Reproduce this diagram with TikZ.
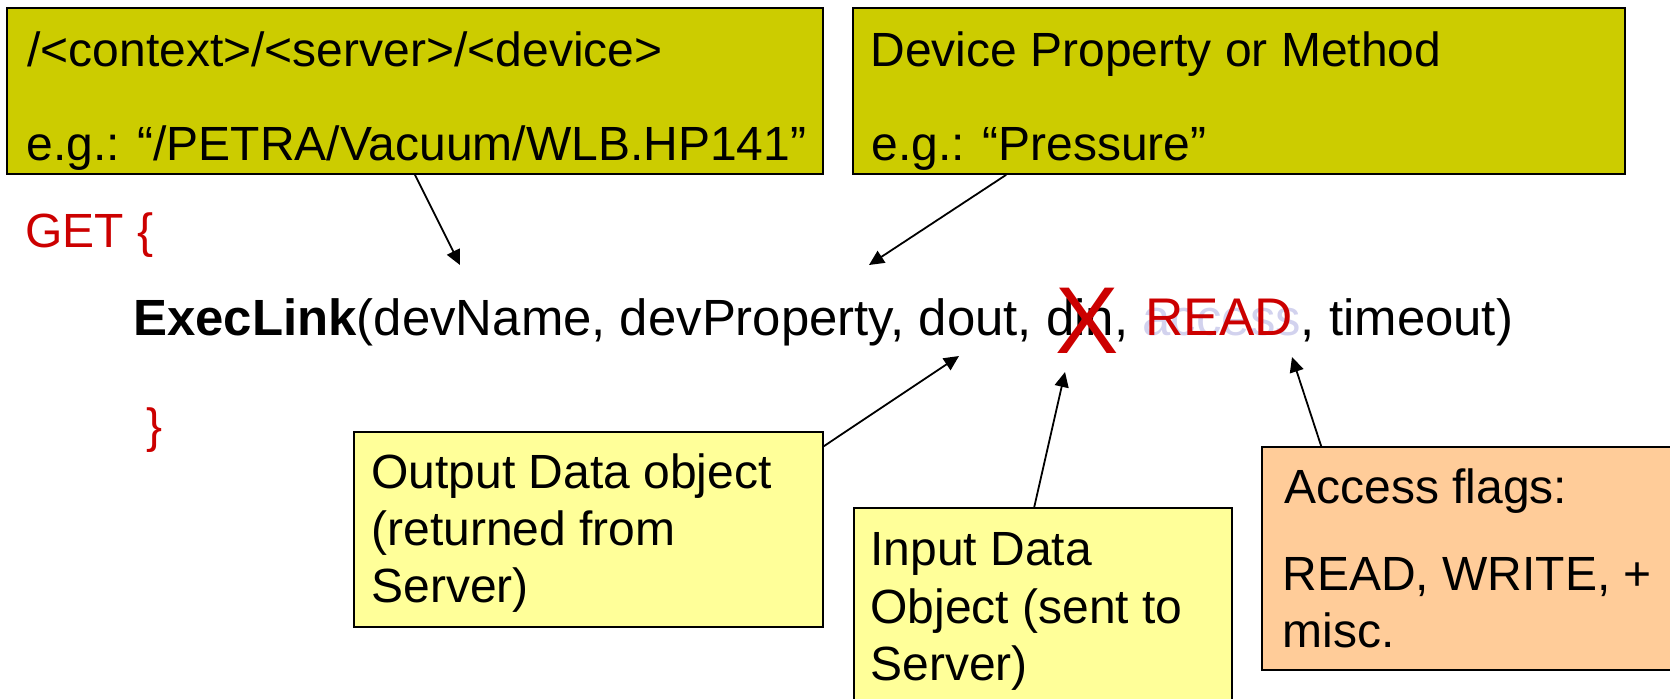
\documentclass[tikz,border=0pt]{standalone}
\usepackage{fontspec}
\setmainfont{Liberation Sans}
\usetikzlibrary{arrows.meta,fit,calc}
\definecolor{olivebox}{HTML}{CCCC00}
\definecolor{paleyellow}{HTML}{FFFF99}
\definecolor{peach}{HTML}{FFCC99}
\definecolor{codered}{HTML}{CC0000}
\definecolor{faded}{HTML}{D2D2EE}
\begin{document}
\begin{tikzpicture}[x=0.5pt,y=-0.5pt,
  box/.style={draw=black, line width=0.8pt, inner sep=0pt},
  txt/.style={anchor=base west, inner sep=0pt, font=\fontsize{24}{28}\selectfont},
  pointer/.style={-{Triangle[length=7.5pt,width=7pt]}, line width=0.9pt}]
\useasboundingbox (0,0) rectangle (1670,698);
\clip (0,0) rectangle (1670,698);

% callout boxes
\node[box, fill=olivebox, fit={(7,8) (823,174)}] (devbox) {};
\node[box, fill=olivebox, fit={(853,8) (1625,174)}] (propbox) {};
\node[box, fill=paleyellow, fit={(354,432) (823,627)}] (outbox) {};
\node[box, fill=paleyellow, fit={(854,508) (1232,712)}] (inbox) {};
\node[box, fill=peach, fit={(1262,447) (1685,670)}] (accbox) {};

% box texts
\node[txt] (devA) at (27,66) {/<context>/<server>/<device>};
\node[txt] (devB) at (26,160) {e.g.: “/PETRA/Vacuum/WLB.HP141”};
\node[txt] (propA) at (870,66) {Device Property or Method};
\node[txt] (propB) at (871,160) {e.g.: “Pressure”};
\node[txt] (outA) at (371,488) {Output Data object};
\node[txt] (outB) at (371,545) {(returned from};
\node[txt] (outC) at (371,602) {Server)};
\node[txt] (inA) at (870,565) {Input Data};
\node[txt] (inB) at (870,623) {Object (sent to};
\node[txt] (inC) at (870,680) {Server)};
\node[txt] (accA) at (1284,503) {Access flags:};
\node[txt] (accB) at (1282,590) {READ, WRITE, +};
\node[txt] (accC) at (1282,647) {misc.};

% the call itself
\node[txt, text=codered] (get) at (25,247) {GET \{};
\node[txt, font=\fontsize{25.45}{30}\selectfont] (call) at (133,335)
  {\textbf{ExecLink}(devName, devProperty, dout, din, \ooalign{\textcolor{faded}{access}\cr\kern1.5pt\fontsize{26.5}{30}\selectfont\textcolor{codered}{READ}\hidewidth}, timeout)};
\node[txt, text=codered] (close) at (146,442) {\}};
\node[anchor=base, inner sep=0pt, text=codered, font=\fontsize{47.5}{50}\selectfont] (cross) at (1087,353) {X};

% arrow targets
\coordinate (tipDev) at (460,265);
\coordinate (tipProp) at (869,265);
\coordinate (tipOut) at (959,356);
\coordinate (tipIn) at (1065,372);
\coordinate (tipAcc) at (1292,357);

\draw[pointer] (devbox.south) -- (tipDev);
\draw[pointer] ($(propbox.south west)+(154,0)$) -- (tipProp);
\draw[pointer] ($(outbox.north east)+(0,15)$) -- (tipOut);
\draw[pointer] ($(inbox.north west)+(181,0)$) -- (tipIn);
\draw[pointer] ($(accbox.north west)+(60,0)$) -- (tipAcc);
\end{tikzpicture}
\end{document}
